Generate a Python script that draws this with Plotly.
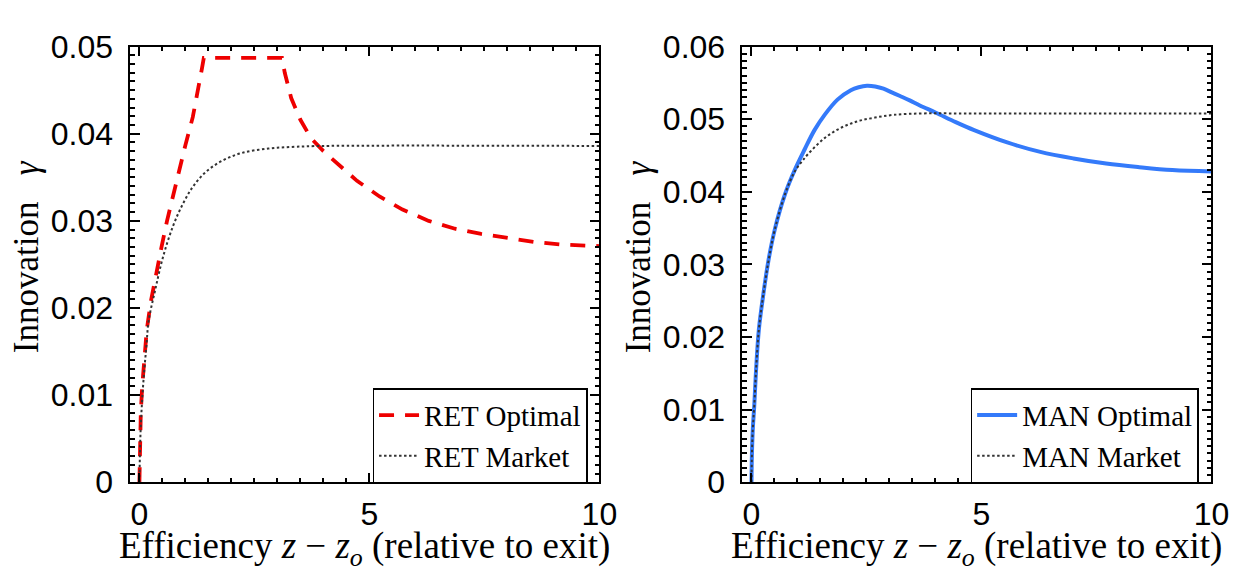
import plotly.graph_objects as go

# ---------------- data ----------------
ret_opt_x = [0, 0.01, 0.03, 0.06, 0.1, 0.16, 0.25, 0.37, 0.48, 0.6, 0.73, 0.87, 1.0, 1.16, 1.26, 1.36, 1.4,
             3.1, 3.16, 3.3, 3.5, 3.73, 4.0, 4.3, 4.73, 5.22, 5.72, 6.29, 6.86, 7.43, 8.0, 8.57, 9.14, 10.0]
ret_opt_y = [0, 0.004, 0.008, 0.011, 0.0138, 0.0175, 0.0208, 0.0243, 0.027, 0.0300, 0.0329, 0.0358, 0.0387, 0.0419,
             0.0445, 0.0475, 0.0487, 0.0487, 0.0470, 0.0441, 0.0416, 0.0395, 0.0380, 0.0366, 0.0346, 0.0328,
             0.0313, 0.0300, 0.0291, 0.0285, 0.0280, 0.0276, 0.0273, 0.0271]

ret_mkt_x = [0, 0.01, 0.03, 0.06, 0.1, 0.15, 0.2, 0.34, 0.51, 0.73, 0.94, 1.16, 1.44, 1.8, 2.23, 2.8, 3.37, 4.0, 10.0]
ret_mkt_y = [0, 0.003, 0.0065, 0.0095, 0.0125, 0.0155, 0.0185, 0.0220, 0.0258, 0.0294, 0.0319, 0.0339, 0.0356,
             0.0369, 0.0378, 0.0383, 0.0385, 0.0386, 0.0386]

man_opt_x = [0, 0.01, 0.03, 0.06, 0.1, 0.16, 0.26, 0.37, 0.51, 0.73, 0.94, 1.16, 1.37, 1.59, 1.87, 2.16, 2.33,
             2.51, 2.69, 2.87, 3.05, 3.23, 3.44, 3.66, 4.01, 4.44, 4.84, 5.56, 6.28, 7.0, 7.71, 8.43, 9.15, 10.0]
man_opt_y = [0, 0.004, 0.0075, 0.0105, 0.0155, 0.0210, 0.0260, 0.0306, 0.0349, 0.0397, 0.0430, 0.0459, 0.0485,
             0.0506, 0.0527, 0.0540, 0.0544, 0.0546, 0.0545, 0.0542, 0.0537, 0.0532, 0.0526, 0.0519, 0.0509,
             0.0496, 0.0485, 0.0468, 0.0455, 0.0446, 0.0439, 0.0434, 0.0430, 0.0428]

man_mkt_x = [0, 0.01, 0.03, 0.06, 0.1, 0.16, 0.26, 0.37, 0.51, 0.73, 0.94, 1.1, 1.23, 1.59, 1.94, 2.3, 2.66, 3.09,
             3.73, 4.5, 10.0]
man_mkt_y = [0, 0.004, 0.0075, 0.0105, 0.0155, 0.0210, 0.0260, 0.0305, 0.0349, 0.0397, 0.0428, 0.0442, 0.0452,
             0.0474, 0.0488, 0.0497, 0.0502, 0.0506, 0.0508, 0.0508, 0.0508]

x_range = [-0.2, 10]
left_y_range = [0, 0.05]
right_y_range = [0, 0.06]
x_ticks = [0, 5, 10]

# ---------------- figure ----------------
W, H = 1252, 571
SERIF = "Liberation Serif, Times New Roman, serif"
SANS = "Liberation Sans, Arial, sans-serif"

fig = go.Figure()

fig.add_trace(go.Scatter(x=ret_opt_x, y=ret_opt_y, mode="lines", name="RET Optimal",
                         line=dict(color="rgb(238,0,0)", width=3.8, dash="15px,11px"),
                         xaxis="x", yaxis="y", legend="legend"))
fig.add_trace(go.Scatter(x=ret_mkt_x, y=ret_mkt_y, mode="lines", name="RET Market",
                         line=dict(color="#333333", width=2, dash="2.5px,2.5px", shape="spline", smoothing=1),
                         xaxis="x", yaxis="y", legend="legend"))
fig.add_trace(go.Scatter(x=man_opt_x, y=man_opt_y, mode="lines", name="MAN Optimal",
                         line=dict(color="rgb(52,122,250)", width=4, shape="spline", smoothing=1),
                         xaxis="x2", yaxis="y2", legend="legend2"))
fig.add_trace(go.Scatter(x=man_mkt_x, y=man_mkt_y, mode="lines", name="MAN Market",
                         line=dict(color="#333333", width=2, dash="2.5px,2.5px", shape="spline", smoothing=1),
                         xaxis="x2", yaxis="y2", legend="legend2"))


def px_x(p):
    return p / W


def px_y(p):
    return (H - p) / H


def xaxis_cfg(domain, anchor):
    return dict(domain=domain, anchor=anchor, range=x_range, tickvals=x_ticks, ticktext=[str(v) for v in x_ticks],
                showline=True, linecolor="black", linewidth=1.5, mirror="allticks",
                ticks="inside", ticklen=10, tickwidth=1.5, tickcolor="black",
                minor=dict(dtick=0.5, tick0=0, ticks="inside", ticklen=5, tickwidth=1.5, tickcolor="black",
                           showgrid=False),
                showgrid=False, zeroline=False, tickfont=dict(family=SANS, size=32, color="black"),
                ticklabelstandoff=3)


def yaxis_cfg(domain, anchor, rng):
    return dict(domain=domain, anchor=anchor, range=rng, dtick=0.01, tick0=0,
                showline=True, linecolor="black", linewidth=1.5, mirror="allticks",
                ticks="inside", ticklen=10, tickwidth=1.5, tickcolor="black",
                minor=dict(dtick=0.001, tick0=0, ticks="inside", ticklen=5, tickwidth=1.5, tickcolor="black",
                           showgrid=False),
                showgrid=False, zeroline=False, tickfont=dict(family=SANS, size=32, color="black"),
                ticklabelstandoff=9)


ydom = [px_y(487), px_y(22)]
legend_style = dict(xanchor="right", yanchor="bottom", bgcolor="white", bordercolor="black", borderwidth=1.5,
                    font=dict(family=SERIF, size=29, color="black"), itemwidth=40, tracegroupgap=0)
fig.update_layout(
    width=W, height=H,
    margin=dict(l=0, r=0, t=0, b=0),
    paper_bgcolor="white", plot_bgcolor="white",
    xaxis=xaxis_cfg([px_x(124), px_x(600)], "y"),
    yaxis=yaxis_cfg(ydom, "x", left_y_range),
    xaxis2=xaxis_cfg([px_x(745), px_x(1221)], "y2"),
    yaxis2=yaxis_cfg(ydom, "x2", right_y_range),
    legend=dict(x=px_x(588), y=px_y(488), **legend_style),
    legend2=dict(x=px_x(1208), y=px_y(488), **legend_style),
    showlegend=True,
)

xlabel = "Efficiency <i>z</i> − <i>z</i><sub><i>o</i></sub> (relative to exit)"
ylabel = "Innovation   <i>γ</i>"
for xc, yc in [(362, 19), (983, 640)]:
    fig.add_annotation(text=xlabel, x=px_x(xc), y=px_y(558), xref="paper", yref="paper",
                       xanchor="center", yanchor="middle", showarrow=False,
                       font=dict(family=SERIF, size=37, color="black"))
    fig.add_annotation(text=ylabel, x=px_x(yc), y=px_y(246), xref="paper", yref="paper",
                       xanchor="center", yanchor="middle", showarrow=False, textangle=-90,
                       font=dict(family=SERIF, size=35, color="black"))

fig.write_html("out.html")
